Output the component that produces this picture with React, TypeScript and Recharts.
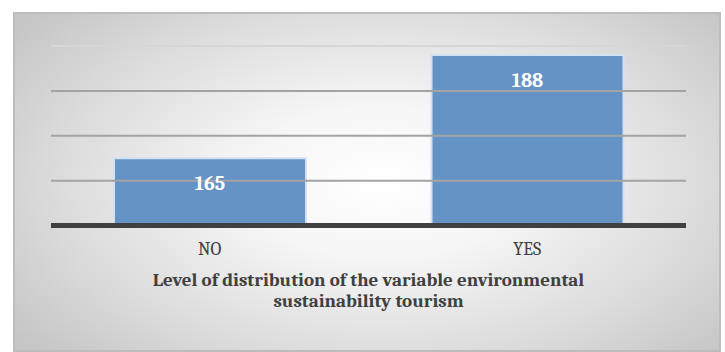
import { Bar, BarChart, LabelList, ReferenceLine, XAxis, YAxis } from "recharts";

const categories = ["NO", "YES"];
const counts = [165, 188];
const yTicks = [150, 160, 170, 180, 190];
const titleLines = ["Level of distribution of the variable environmental", "sustainability tourism"];

const data = categories.map((name, i) => ({ name, value: counts[i] }));

const SERIF = "Cambria, 'Liberation Serif', serif";

function AxisTitle(props: any) {
  const { viewBox } = props;
  const cx = viewBox.x + viewBox.width / 2;
  return (
    <text x={cx} textAnchor="middle" fill="#404040" fontFamily={SERIF} fontWeight={700} fontSize={19}>
      {titleLines.map((line, i) => (
        <tspan key={i} x={cx} y={viewBox.y + 60 + i * 21}>
          {line}
        </tspan>
      ))}
    </text>
  );
}

export default function App() {
  return (
    <div style={{ position: "absolute", left: 0, top: 0, width: 725, height: 352, background: "#fff" }}>
      <div
        style={{
          position: "absolute",
          left: 13,
          top: 12,
          width: 704,
          height: 336,
          border: "2px solid #bdbdbd",
          background: "radial-gradient(ellipse 65% 75% at 52% 50%, #ffffff 0%, #f6f6f6 30%, #dcdcdc 70%, #c6c6c6 100%)",
        }}
      />
      <div style={{ position: "absolute", left: 0, top: 0 }}>
        <BarChart width={725} height={352} data={data} margin={{ top: 46, right: 39, bottom: 26.5, left: 51 }}>
          <YAxis hide domain={[150, 190]} ticks={yTicks} />
          {yTicks.slice(1).map((v) => (
            <ReferenceLine key={v} y={v} stroke={v === 190 ? "#d6d6d6" : "#a3a3a3"} strokeWidth={2} />
          ))}
          <XAxis
            dataKey="name"
            height={100}
            axisLine={{ stroke: "#404040", strokeWidth: 5 }}
            tickLine={false}
            tickMargin={11}
            tick={{ fill: "#404040", fontSize: 18, fontFamily: SERIF }}
            label={<AxisTitle />}
          />
          <Bar dataKey="value" barSize={192} fill="#6593c6" stroke="#d3e1f2" strokeWidth={2} isAnimationActive={false}>
            <LabelList
              dataKey="value"
              position="insideTop"
              offset={18}
              fill="#ffffff"
              fontSize={20}
              fontWeight={700}
              fontFamily={SERIF}
            />
          </Bar>
        </BarChart>
      </div>
    </div>
  );
}
